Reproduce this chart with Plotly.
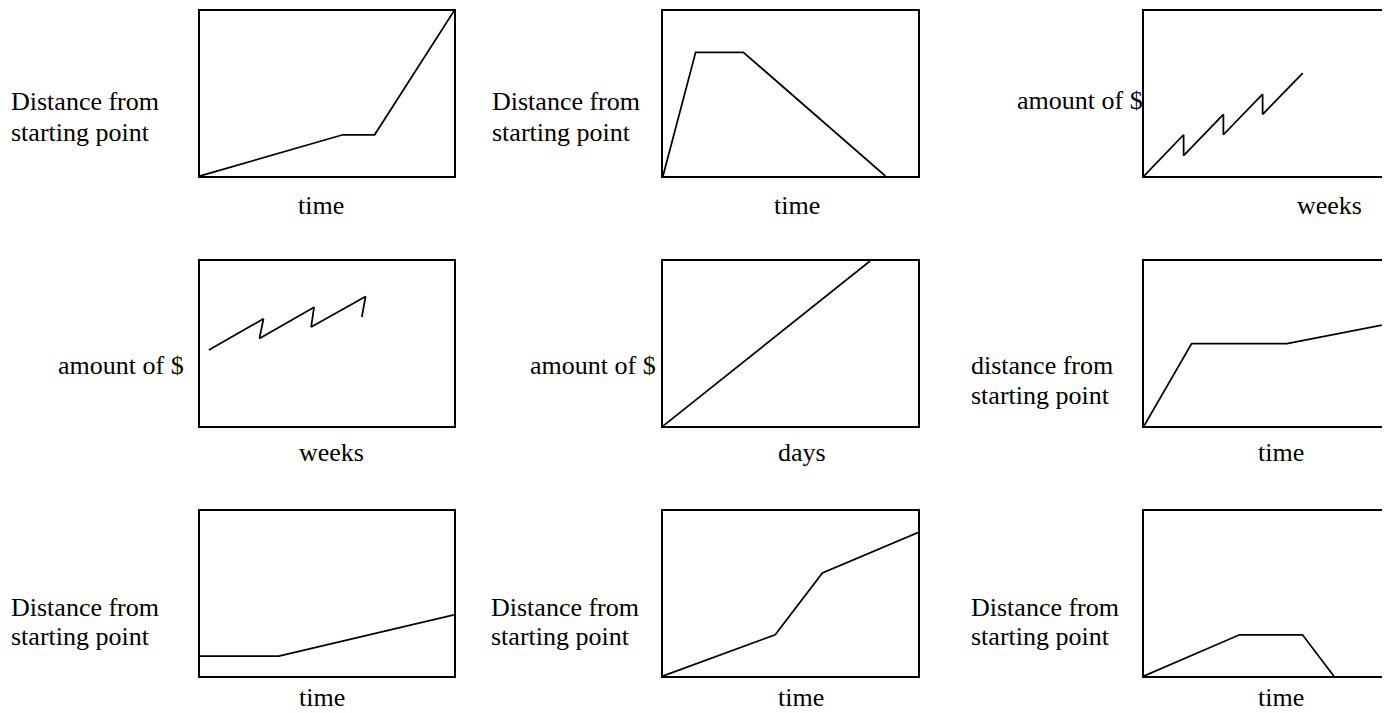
import plotly.graph_objects as go

# The page body has an 8px margin, so the figure is drawn 8px smaller and
# every reference pixel position is shifted by that margin.
PAGE_W, PAGE_H = 1390, 713
OFF = 8
W, H = PAGE_W - OFF, PAGE_H - OFF

# ---- data: each panel's polyline, as fractions of its frame (0..1) ----
p1_x = [0, 0.5625, 0.6875, 1.0]
p1_y = [0, 0.25, 0.25, 1.0]
p2_x = [0, 0.128, 0.315, 0.872]
p2_y = [0, 0.75, 0.75, 0]
p3_x = [0, 0.156, 0.156, 0.3125, 0.3125, 0.467, 0.467, 0.625]
p3_y = [0, 0.25, 0.124, 0.374, 0.25, 0.496, 0.374, 0.624]
p4_x = [0.035, 0.25, 0.234, 0.449, 0.4375, 0.652, 0.637]
p4_y = [0.46, 0.65, 0.53, 0.72, 0.60, 0.785, 0.66]
p5_x = [0, 0.812]
p5_y = [0, 1.0]
p6_x = [0, 0.1875, 0.5625, 1.0]
p6_y = [0, 0.50, 0.50, 0.63]
p7_x = [0, 0.31, 1.0]
p7_y = [0.12, 0.12, 0.37]
p8_x = [0, 0.44, 0.625, 1.0]
p8_y = [0, 0.25, 0.625, 0.87]
p9_x = [0, 0.376, 0.624, 0.747]
p9_y = [0, 0.25, 0.25, 0]

panels_x = [p1_x, p2_x, p3_x, p4_x, p5_x, p6_x, p7_x, p8_x, p9_x]
panels_y = [p1_y, p2_y, p3_y, p4_y, p5_y, p6_y, p7_y, p8_y, p9_y]

# ---- text ----
y_labels = [
    ["Distance from", "starting point"],
    ["Distance from", "starting point"],
    ["amount of $"],
    ["amount of $"],
    ["amount of $"],
    ["distance from", "starting point"],
    ["Distance from", "starting point"],
    ["Distance from", "starting point"],
    ["Distance from", "starting point"],
]
x_labels = ["time", "time", "weeks", "weeks", "days", "time", "time", "time", "time"]

# ---- layout (reference page pixels) ----
col_lr = [(199, 455), (662, 919), (1143, 1399)]
row_tb = [(10, 177), (260, 427), (510, 677)]
ylab_left = [9, 490, 1015, 56, 528, 969, 9, 489, 969]
ylab_base = [[111, 141], [111, 141], [110], [375], [375], [375, 404],
             [616, 645], [616, 645], [616, 645]]
xlab_cx = [321, 797, 1329, 331, 802, 1281, 322, 801, 1281]
xlab_base = [214, 214, 214, 461, 461, 461, 706, 706, 706]

FONT = dict(family="Liberation Serif, Times New Roman, serif", size=26, color="black")


def fx(px):
    return (px - OFF) / W


def fy(py):
    return 1 - (py - OFF) / H


fig = go.Figure()
layout = dict(
    width=W, height=H, margin=dict(l=0, r=0, t=0, b=0),
    paper_bgcolor="white", plot_bgcolor="white", showlegend=False,
)
annotations = []

for i in range(9):
    r, c = divmod(i, 3)
    L, R = col_lr[c]
    T, B = row_tb[r]
    x0p, x1p = L + 1, R - 1
    xmax = 1.0
    if x1p > PAGE_W:
        xmax = (PAGE_W - x0p) / (x1p - x0p)
        x1p = PAGE_W
    dom_x = [fx(x0p), min(1.0, fx(x1p))]
    dom_y = [fy(B - 1), fy(T + 1)]
    n = "" if i == 0 else str(i + 1)
    layout["xaxis" + n] = dict(
        domain=dom_x, range=[0, xmax], anchor="y" + n,
        showline=True, linecolor="black", linewidth=2, mirror=True,
        showgrid=False, zeroline=False, showticklabels=False, ticks="",
        fixedrange=True,
    )
    layout["yaxis" + n] = dict(
        domain=dom_y, range=[0, 1], anchor="x" + n,
        showline=True, linecolor="black", linewidth=2, mirror=(c != 2),
        showgrid=False, zeroline=False, showticklabels=False, ticks="",
        fixedrange=True,
    )
    fig.add_trace(go.Scatter(
        x=panels_x[i], y=panels_y[i], mode="lines",
        line=dict(color="black", width=1.75),
        xaxis="x" + n, yaxis="y" + n, hoverinfo="skip",
    ))
    for txt, base in zip(y_labels[i], ylab_base[i]):
        annotations.append(dict(
            text=txt, xref="paper", yref="paper",
            x=fx(ylab_left[i]), y=fy(base - 9),
            xanchor="left", yanchor="middle", showarrow=False, font=FONT,
        ))
    annotations.append(dict(
        text=x_labels[i], xref="paper", yref="paper",
        x=fx(xlab_cx[i]), y=fy(xlab_base[i] - 9),
        xanchor="center", yanchor="middle", showarrow=False, font=FONT,
    ))

layout["annotations"] = annotations
fig.update_layout(**layout)
fig.write_html("out.html")
